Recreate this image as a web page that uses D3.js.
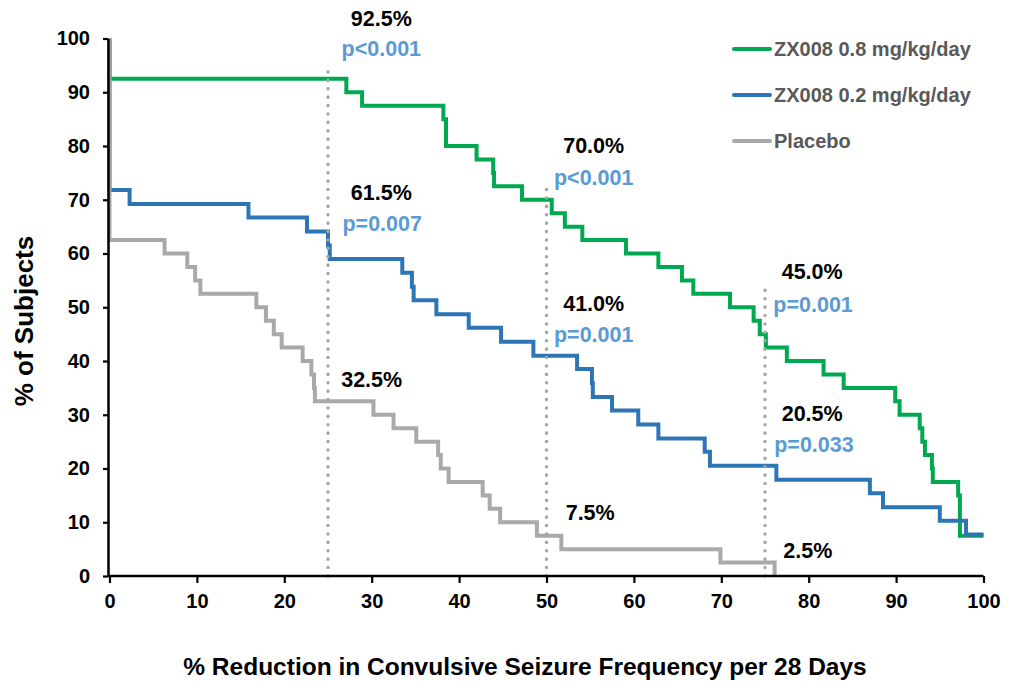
<!DOCTYPE html>
<html>
<head>
<meta charset="utf-8">
<script src="https://cdn.jsdelivr.net/npm/d3@7"></script>
<style>
	body { margin: 0; background: #fff; }
	svg { display: block; font-family: Arial, "Liberation Sans", sans-serif; font-weight: bold; }
</style>
</head>
<body>
<svg class="chart" width="1015" height="681"></svg>
<script>
// step points [% reduction, % of subjects]
var highDose = [
	[0, 100], [0, 92.5], [27.1, 90], [28.9, 87.5], [38.2, 85], [38.5, 80], [42.0, 77.5],
	[43.9, 75], [44.0, 72.5], [47.2, 70], [50.6, 67.5], [52.1, 65], [54.1, 62.5], [59.1, 60],
	[62.8, 57.5], [65.5, 55], [66.8, 52.5], [71.0, 50], [73.7, 47.5], [74.4, 45], [75.1, 42.5],
	[77.5, 40], [81.7, 37.5], [84.0, 35], [89.9, 32.5], [90.4, 30], [92.7, 27.5], [93.0, 25],
	[93.3, 22.5], [94.1, 20], [94.2, 17.5], [97.1, 15], [97.3, 7.5], [100, 7.5]
];
var lowDose = [
	[0, 100], [0, 71.8], [2.3, 69.2], [15.9, 66.7], [22.6, 64.1], [25.0, 61.5], [25.2, 59.0],
	[33.5, 56.4], [34.6, 53.8], [34.8, 51.3], [37.4, 48.7], [41.1, 46.2], [44.8, 43.6],
	[48.5, 41.0], [53.5, 38.5], [55.2, 35.9], [55.3, 33.3], [57.5, 30.8], [60.5, 28.2],
	[62.8, 25.6], [68.1, 23.1], [68.7, 20.5], [76.3, 17.9], [87.0, 15.4], [88.5, 12.8],
	[95.0, 10.3], [98.0, 7.7], [100, 7.7]
];
var placebo = [
	[0, 100], [0, 62.5], [6.3, 60], [8.9, 57.5], [9.8, 55], [10.4, 52.5], [16.8, 50],
	[17.9, 47.5], [18.8, 45], [19.7, 42.5], [22.1, 40], [23.1, 37.5], [23.4, 35], [23.5, 32.5],
	[30.2, 30], [32.5, 27.5], [35.1, 25], [37.6, 22.5], [37.9, 20], [38.8, 17.5], [42.7, 15],
	[43.5, 12.5], [44.7, 10], [48.9, 7.5], [51.7, 5], [69.9, 2.5], [76.1, 0]
];
var seriesNames = ["ZX008 0.8 mg/kg/day", "ZX008 0.2 mg/kg/day", "Placebo"];
var seriesColors = ["#00a84f", "#2e75b6", "#a9a9a9"];
var xTicks = [0, 10, 20, 30, 40, 50, 60, 70, 80, 90, 100];
var yTicks = [0, 10, 20, 30, 40, 50, 60, 70, 80, 90, 100];
// cut-off lines [x, top]
var cutoffs = [[25, 94.3], [50, 72.8], [75, 54.2]];
// annotation text, anchored in data units [x, y, text, isPValue]
var notes = [
	[31.1, 102.3, "92.5%", 0], [31.1, 96.7, "p<0.001", 1],
	[31.1, 69.9, "61.5%", 0], [31.2, 64.1, "p=0.007", 1],
	[30.0, 35.2, "32.5%", 0],
	[55.4, 78.7, "70.0%", 0], [55.4, 72.7, "p<0.001", 1],
	[55.4, 49.3, "41.0%", 0], [55.4, 43.6, "p=0.001", 1],
	[55.0, 10.4, "7.5%", 0],
	[80.4, 55.2, "45.0%", 0], [80.5, 49.2, "p=0.001", 1],
	[80.4, 28.9, "20.5%", 0], [80.6, 23.1, "p=0.033", 1],
	[79.9, 3.3, "2.5%", 0]
];

var svg = d3.select(".chart");
var x = d3.scaleLinear()
	.domain([0, 100])
	.range([109.5, 983.5]);
var y = d3.scaleLinear()
	.domain([0, 100])
	.range([576, 38.5]);
var line = d3.line()
	.curve(d3.curveStepAfter)
	.x(function(d) {
		return x(d[0]);
	})
	.y(function(d) {
		return y(d[1]);
	});

[highDose, lowDose, placebo].forEach(function(data, i) {
	svg.append("path")
		.datum(data)
		.attr("fill", "none")
		.attr("stroke", seriesColors[i])
		.attr("stroke-width", 4)
		.attr("stroke-linejoin", "miter")
		.attr("d", line);
});

svg.selectAll(".cutoff")
	.data(cutoffs)
	.enter().append("line")
	.attr("class", "cutoff")
	.attr("x1", function(d) { return x(d[0]); })
	.attr("x2", function(d) { return x(d[0]); })
	.attr("y1", y(0))
	.attr("y2", function(d) { return y(d[1]); })
	.attr("stroke", "#a6a6a6")
	.attr("stroke-width", 3.5)
	.attr("stroke-linecap", "round")
	.attr("stroke-dasharray", "0.1,8.3");

var bot = svg.append("g")
	.attr("transform", "translate(0," + y(0) + ")")
	.call(d3.axisBottom(x).tickValues(xTicks).tickSize(7).tickSizeOuter(0).tickPadding(11));
var left = svg.append("g")
	.attr("transform", "translate(108,0)")
	.call(d3.axisLeft(y).tickValues(yTicks).tickSize(5).tickSizeOuter(0).tickPadding(13));
[bot, left].forEach(function(ax) {
	ax.select(".domain")
		.attr("stroke", "#000")
		.attr("stroke-width", 2.5);
	ax.selectAll(".tick line")
		.attr("stroke", "#000")
		.attr("stroke-width", 2.2);
	ax.selectAll("text")
		.attr("fill", "#000")
		.style("font-size", "20px")
		.style("font-weight", "bold")
		.style("font-family", "Arial, 'Liberation Sans', sans-serif");
});
bot.select(".domain").attr("d", "M" + (x(0) - 1.5) + ",0H" + x(100));

svg.append("text")
	.attr("x", 525)
	.attr("y", 675)
	.attr("text-anchor", "middle")
	.style("font-size", "24.5px")
	.attr("fill", "#000")
	.text("% Reduction in Convulsive Seizure Frequency per 28 Days");
svg.append("text")
	.attr("transform", "translate(33,321) rotate(-90)")
	.attr("text-anchor", "middle")
	.style("font-size", "26px")
	.attr("fill", "#000")
	.text("% of Subjects");

svg.selectAll(".note")
	.data(notes)
	.enter().append("text")
	.attr("class", "note")
	.attr("x", function(d) { return x(d[0]); })
	.attr("y", function(d) { return y(d[1]); })
	.attr("text-anchor", "middle")
	.style("font-size", "21.5px")
	.attr("fill", function(d) { return d[3] ? "#5b9bd5" : "#000"; })
	.text(function(d) { return d[2]; });

var legend = svg.selectAll(".legend")
	.data(seriesNames)
	.enter().append("g")
	.attr("class", "legend")
	.attr("transform", function(d, i) { return "translate(733," + (49 + i * 46) + ")"; });
legend.append("line")
	.attr("x1", 1)
	.attr("x2", 37)
	.attr("stroke", function(d, i) { return seriesColors[i]; })
	.attr("stroke-width", 4)
	.attr("stroke-linecap", "round");
legend.append("text")
	.attr("x", 41)
	.attr("y", 7)
	.attr("fill", "#595959")
	.style("font-size", "20px")
	.text(function(d) { return d; });
</script>
</body>
</html>
